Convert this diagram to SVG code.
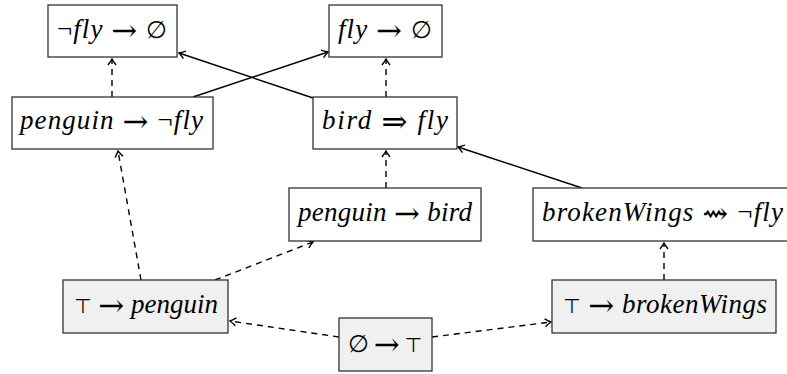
<svg xmlns="http://www.w3.org/2000/svg" width="787" height="374" viewBox="0 0 787 374">
<defs>
<style>
.box{fill:#fff;stroke:#333;stroke-width:1.3}
.fill{fill:#f0f0f0}
.t{font-size:27px;text-anchor:middle;fill:#000}
.i{font-style:italic}
.s{font-family:'DejaVu Serif',serif;font-size:31px;font-style:normal;baseline-shift:-3px}
.z{font-family:'DejaVu Serif',serif;font-size:24px;font-style:normal}
.k{font-family:'DejaVu Sans',sans-serif;font-size:20px;font-style:normal}
.e{fill:none;stroke:#000;stroke-width:1.4}
.d{stroke-dasharray:6 5}
</style>
<marker id="ah" viewBox="-8 -6 10 12" markerWidth="10" markerHeight="12" refX="0" refY="0" orient="auto" markerUnits="userSpaceOnUse">
<path d="M-6,-4 Q-2,-1 0,0 Q-2,1 -6,4" fill="none" stroke="#000" stroke-width="1.4" stroke-dasharray="none"/>
</marker>
</defs>
<rect width="787" height="374" fill="#fff"/>
<g id="connectors">
<path class="e d" d="M112,97 L112,59" marker-end="url(#ah)"/>
<path class="e" d="M193,97 L328,52" marker-end="url(#ah)"/>
<path class="e" d="M313,98 L179,53" marker-end="url(#ah)"/>
<path class="e d" d="M386,97 L386,59" marker-end="url(#ah)"/>
<path class="e d" d="M386,188 L386,151" marker-end="url(#ah)"/>
<path class="e" d="M582,188 L458,147" marker-end="url(#ah)"/>
<path class="e d" d="M664,280 L664,243" marker-end="url(#ah)"/>
<path class="e d" d="M141,280 L118,151" marker-end="url(#ah)"/>
<path class="e d" d="M215,280 L313,242" marker-end="url(#ah)"/>
<path class="e d" d="M339,337 L230,321" marker-end="url(#ah)"/>
<path class="e d" d="M432,337 L551,322" marker-end="url(#ah)"/>
</g>
<g id="nodes" font-family="Liberation Serif, serif">
<g id="n1"><rect class="box" x="48" y="5" width="129" height="52"/>
<text class="t" x="112" y="38" textLength="110" lengthAdjust="spacing">¬<tspan class="i">fly</tspan> <tspan class="s">→</tspan> <tspan class="z">∅</tspan></text></g>
<g id="n2"><rect class="box" x="329" y="5" width="113" height="52"/>
<text class="t" x="385" y="38" textLength="94" lengthAdjust="spacing"><tspan class="i">fly</tspan> <tspan class="s">→</tspan> <tspan class="z">∅</tspan></text></g>
<g id="n3"><rect class="box" x="12" y="97" width="201" height="52"/>
<text class="t" x="111.5" y="129" textLength="183" lengthAdjust="spacing"><tspan class="i">penguin</tspan> <tspan class="s">→</tspan> ¬<tspan class="i">fly</tspan></text></g>
<g id="n4"><rect class="box" x="313" y="97" width="144" height="52"/>
<text class="t" x="385" y="129" textLength="126" lengthAdjust="spacing"><tspan class="i">bird</tspan> <tspan class="s">⇒</tspan> <tspan class="i">fly</tspan></text></g>
<g id="n5"><rect class="box" x="289" y="188" width="192" height="53"/>
<text class="t" x="385" y="221" textLength="174" lengthAdjust="spacing"><tspan class="i">penguin</tspan> <tspan class="s">→</tspan> <tspan class="i">bird</tspan></text></g>
<g id="n6"><rect class="box" x="533" y="188" width="260" height="53"/>
<text class="t" x="662.5" y="221" textLength="241" lengthAdjust="spacing"><tspan class="i">brokenWings</tspan> <tspan class="s">⇝</tspan> ¬<tspan class="i">fly</tspan></text></g>
<g id="n7"><rect class="box fill" x="63" y="280" width="165" height="53"/>
<text class="t" x="146" y="313" textLength="144" lengthAdjust="spacing"><tspan class="k">⊤</tspan> <tspan class="s">→</tspan> <tspan class="i">penguin</tspan></text></g>
<g id="n8"><rect class="box fill" x="552" y="280" width="224" height="53"/>
<text class="t" x="665" y="313" textLength="204" lengthAdjust="spacing"><tspan class="k">⊤</tspan> <tspan class="s">→</tspan> <tspan class="i">brokenWings</tspan></text></g>
<g id="n9"><rect class="box fill" x="339" y="318" width="93" height="53"/>
<text class="t" x="385" y="352" textLength="74" lengthAdjust="spacing"><tspan class="z">∅</tspan> <tspan class="s">→</tspan> <tspan class="k">⊤</tspan></text></g>
</g>
</svg>
